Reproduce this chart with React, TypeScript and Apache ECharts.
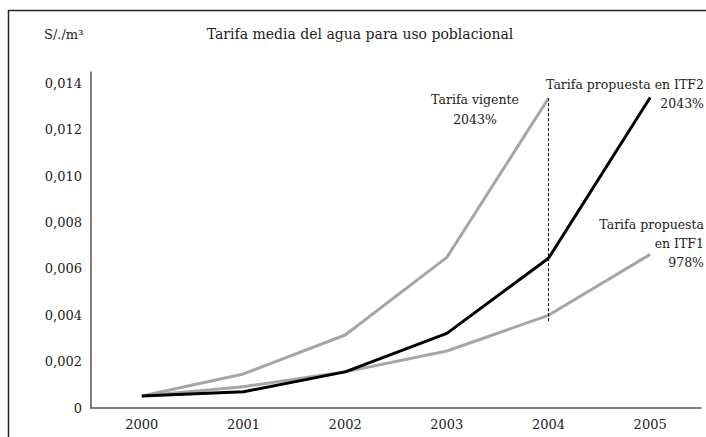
import React, { useEffect, useRef } from "react";
import * as echarts from "echarts";

const years = ["2000", "2001", "2002", "2003", "2004", "2005"];
const tarifaVigente = [0.00052, 0.00147, 0.00315, 0.0065, 0.01337, null];
const tarifaITF2 = [0.00052, 0.0007, 0.00156, 0.00322, 0.00646, 0.0134];
const tarifaITF1 = [0.00052, 0.00092, 0.00156, 0.00246, 0.004, 0.00663];
const dashedRef = { year: "2004", from: 0.01337, to: 0.00366 };

const FONT = "DejaVu Serif";

export default function App() {
  const ref = useRef<HTMLDivElement>(null);
  useEffect(() => {
    if (!ref.current) return;
    const chart = echarts.init(ref.current, undefined, { renderer: "svg" });
    chart.setOption({
      animation: false,
      backgroundColor: "#ffffff",
      textStyle: { fontFamily: FONT },
      grid: { left: 91, right: 5, top: 72, bottom: 29 },
      xAxis: {
        type: "category",
        data: years,
        boundaryGap: true,
        axisLine: { lineStyle: { color: "#555", width: 1.5 } },
        axisTick: { show: false },
        axisLabel: { color: "#222", fontSize: 13, fontFamily: FONT, margin: 10 },
        splitLine: { show: false },
      },
      yAxis: {
        type: "value",
        min: 0,
        max: 0.0145,
        interval: 0.002,
        axisLine: { show: true, lineStyle: { color: "#555", width: 1.5 } },
        axisTick: { show: false },
        splitLine: { show: false },
        axisLabel: {
          color: "#222",
          fontSize: 13,
          fontFamily: FONT,
          margin: 9,
          showMaxLabel: false,
          formatter: (v: number) => (v === 0 ? "0" : v.toFixed(3).replace(".", ",")),
        },
      },
      series: [
        {
          name: "Tarifa vigente",
          type: "line",
          data: tarifaVigente,
          symbol: "none",
          lineStyle: { color: "#a6a6a6", width: 3 },
          z: 2,
          markLine: {
            symbol: "none",
            silent: true,
            label: { show: false },
            lineStyle: { color: "#000", type: [3, 2], width: 1 },
            data: [
              [
                { coord: [dashedRef.year, dashedRef.from] },
                { coord: [dashedRef.year, dashedRef.to] },
              ],
            ],
          },
        },
        {
          name: "Tarifa propuesta en ITF1",
          type: "line",
          data: tarifaITF1,
          symbol: "none",
          lineStyle: { color: "#a6a6a6", width: 3 },
          z: 2,
        },
        {
          name: "Tarifa propuesta en ITF2",
          type: "line",
          data: tarifaITF2,
          symbol: "none",
          lineStyle: { color: "#000", width: 3 },
          z: 3,
        },
      ],
      graphic: [
        {
          type: "rect",
          shape: { x: 8.5, y: 10.5, width: 720, height: 450 },
          style: { fill: "none", stroke: "#222", lineWidth: 1.5 },
          silent: true,
        },
        {
          type: "text",
          x: 44,
          y: 34,
          style: { text: "S/./m³", fontSize: 13, fontFamily: FONT, fill: "#222", textVerticalAlign: "middle" },
        },
        {
          type: "text",
          x: 360,
          y: 34,
          style: {
            text: "Tarifa media del agua para uso poblacional",
            fontSize: 14,
            fontFamily: FONT,
            fill: "#222",
            textAlign: "center",
            textVerticalAlign: "middle",
          },
        },
        {
          type: "text",
          x: 475,
          y: 109,
          style: {
            text: "Tarifa vigente\n2043%",
            fontSize: 12.5,
            fontFamily: FONT,
            lineHeight: 20,
            fill: "#222",
            textAlign: "center",
            textVerticalAlign: "middle",
          },
        },
        {
          type: "text",
          x: 704,
          y: 94,
          style: {
            text: "Tarifa propuesta en ITF2\n2043%",
            fontSize: 12.5,
            fontFamily: FONT,
            lineHeight: 19,
            fill: "#222",
            textAlign: "right",
            textVerticalAlign: "middle",
          },
        },
        {
          type: "text",
          x: 704,
          y: 243,
          style: {
            text: "Tarifa propuesta\nen ITF1\n978%",
            fontSize: 12.5,
            fontFamily: FONT,
            lineHeight: 19,
            fill: "#222",
            textAlign: "right",
            textVerticalAlign: "middle",
          },
        },
      ],
    });
    return () => chart.dispose();
  }, []);
  return (
    <div
      ref={ref}
      style={{ position: "fixed", left: 0, top: 0, width: 706, height: 437 }}
    />
  );
}
